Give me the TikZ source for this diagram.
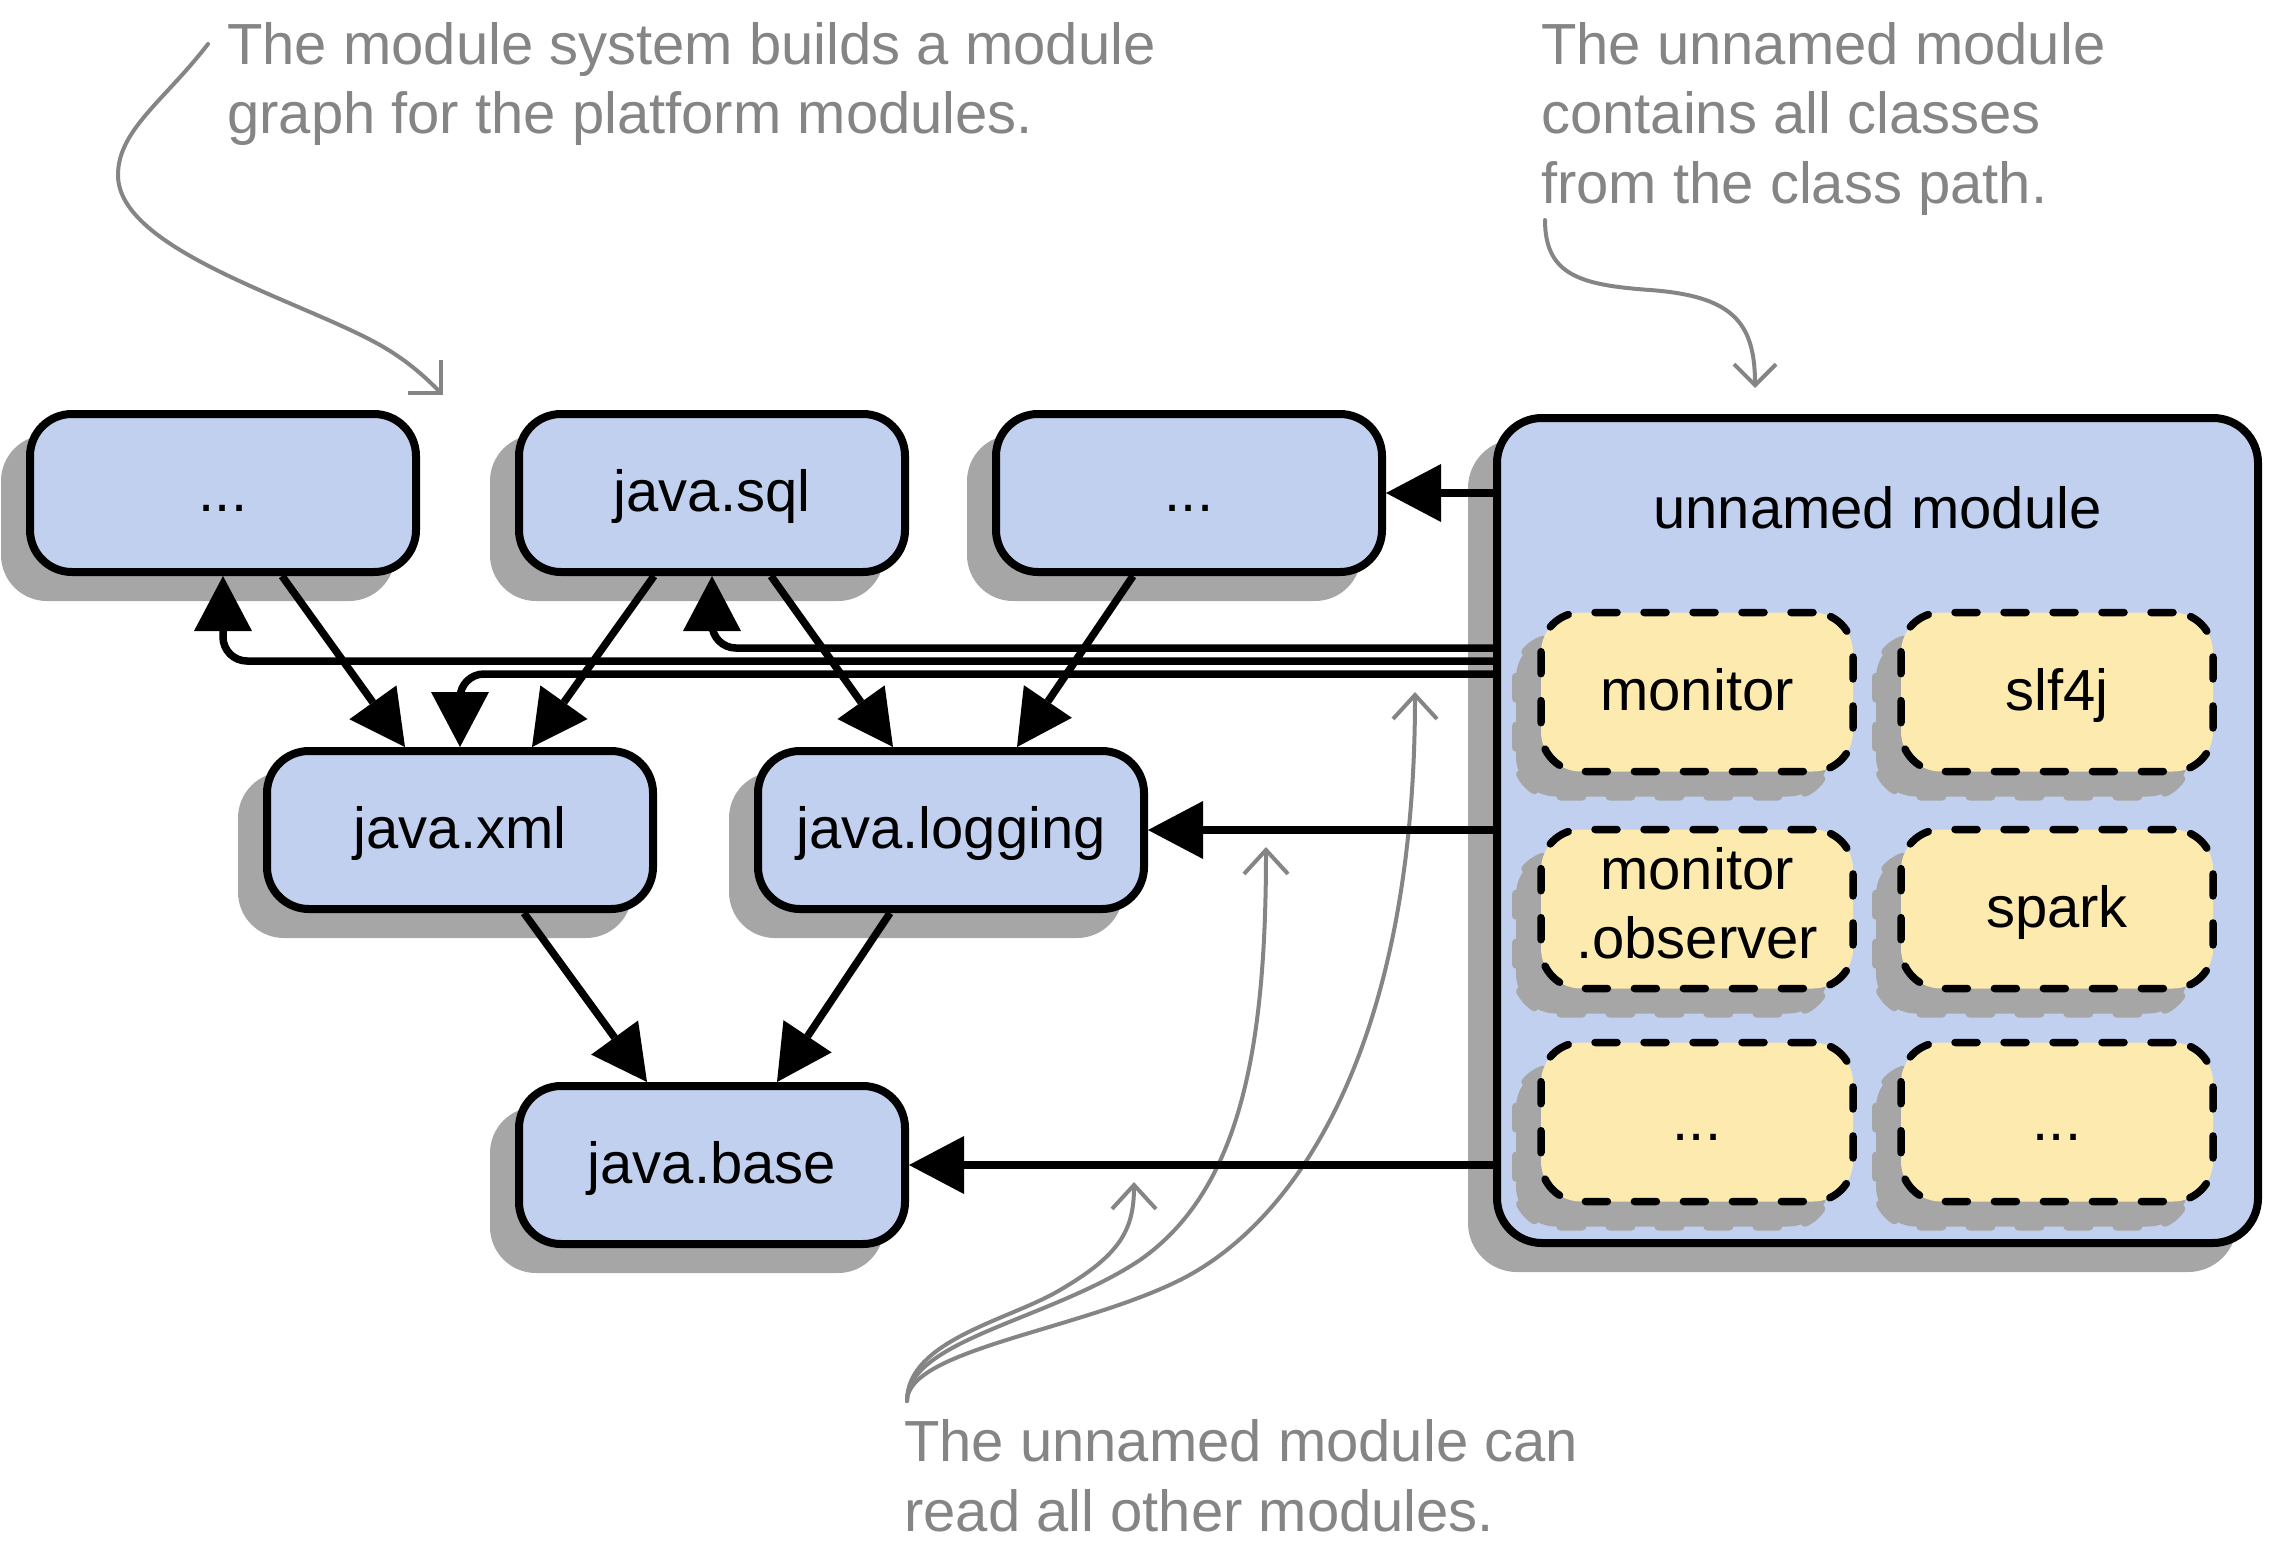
\documentclass[tikz,border=0pt]{standalone}
\usepackage{fontspec}
\setmainfont{Liberation Sans}
\usetikzlibrary{arrows.meta,shadows}
\definecolor{boxblue}{RGB}{192,208,238}
\definecolor{noteyellow}{RGB}{253,234,175}
\definecolor{shadowgray}{RGB}{166,166,166}
\definecolor{notegray}{RGB}{133,133,133}
\begin{document}
\begin{tikzpicture}[x=1pt,y=-1pt,
  every node/.style={font=\fontsize{58}{69.5}\selectfont},
  shadowed/.style={drop shadow={shadow xshift=-25pt,shadow yshift=-25pt,fill=shadowgray,draw=shadowgray,line width=8pt,opacity=1}},
  modbox/.style={shadowed, draw, line width=8pt, fill=boxblue, rounded corners=42pt, minimum width=386pt, minimum height=158pt, inner sep=0pt, text height=44pt, text depth=8pt},
  bigbox/.style={shadowed, draw, line width=8pt, fill=boxblue, rounded corners=45pt, minimum width=761pt, minimum height=825pt, inner sep=0pt},
  subbox/.style={shadowed, draw, line width=7.5pt, line cap=round, dash pattern=on 22pt off 27pt, fill=noteyellow, rounded corners=40pt, minimum width=312pt, minimum height=159pt, inner sep=0pt, text height=44pt, text depth=8pt},
  lbl/.style={inner sep=0pt, anchor=base},
  note/.style={inner sep=0pt, anchor=base west, text=notegray},
  notecurve/.style={draw=notegray, line width=4pt, line cap=round},
  arr/.style={line width=7.5pt, -{Triangle[length=55pt,width=58pt,line width=0pt]}},
]
\useasboundingbox (0,0) rectangle (2269,1550);

% platform modules
\node[modbox] (A) at (223,493) {...};
\node[modbox] (sql) at (712,493) {java.sql};
\node[modbox] (dotsmid) at (1189,493) {...};
\node[modbox] (xml) at (460,830) {java.xml};
\node[modbox] (log) at (951,830) {java.logging};
\node[modbox] (base) at (712,1165) {java.base};

% unnamed module
\node[bigbox] (unn) at (1877.5,830.5) {};
\node[lbl] (unnlbl) at (1877.5,528) {unnamed module};
\node[subbox] (mon) at (1697,692) {monitor};
\node[subbox] (slf) at (2057,692) {slf4j};
\node[subbox] (obs) at (1697,909) {};
\node[lbl] (obs1) at (1697,889) {monitor};
\node[lbl] (obs2) at (1697,958) {.observer};
\node[subbox] (spark) at (2057,909) {spark};
\node[subbox] (more1) at (1697,1122) {...};
\node[subbox] (more2) at (2057,1122) {...};

% annotations
\node[note] (n1a) at (227,64) {The module system builds a module};
\node[note] (n1b) at (227,133.5) {graph for the platform modules.};
\node[note] (n2a) at (1541,64) {The unnamed module};
\node[note] (n2b) at (1541,133.5) {contains all classes};
\node[note] (n2c) at (1541,203) {from the class path.};
\node[note] (n3a) at (904,1461.5) {The unnamed module can};
\node[note] (n3b) at (904,1531) {read all other modules.};

\coordinate (c1s) at (208,44);
\coordinate (c1e) at (443,395);
\coordinate (c2s) at (1545,220);
\coordinate (c2e) at (1755,388);
\coordinate (c3s) at (907,1401);
\coordinate (c3a) at (1134,1182);
\coordinate (c3b) at (1266,847);
\coordinate (c3c) at (1415,692);

\draw[notecurve, -{Straight Barb[length=23pt,width=46pt]}] (c1s) .. controls (165,100) and (118,130) .. (118,175) .. controls (118,250) and (300,300) .. (380,345) .. controls (410,362) and (428,380) .. (c1e);
\draw[notecurve, -{Straight Barb[length=21pt,width=42pt]}] (c2s) .. controls (1545,275) and (1580,285) .. (1650,290) .. controls (1730,296) and (1755,320) .. (c2e);
\draw[notecurve, -{Straight Barb[length=24pt,width=44pt]}] (c3s) .. controls (907,1340) and (1010,1320) .. (1060,1290) .. controls (1120,1255) and (1134,1230) .. (c3a);
\draw[notecurve, -{Straight Barb[length=24pt,width=44pt]}] (c3s) .. controls (907,1340) and (1050,1320) .. (1140,1260) .. controls (1240,1190) and (1266,1050) .. (c3b);
\draw[notecurve, -{Straight Barb[length=24pt,width=44pt]}] (c3s) .. controls (907,1350) and (1080,1330) .. (1180,1280) .. controls (1300,1220) and (1415,1040) .. (c3c);

% dependencies
\draw[arr] ([xshift=59pt]A.south) -- ([xshift=-55pt]xml.north);
\draw[arr] ([xshift=-58pt]sql.south) -- ([xshift=72pt]xml.north);
\draw[arr] ([xshift=59pt]sql.south) -- ([xshift=-58pt]log.north);
\draw[arr] ([xshift=-56pt]dotsmid.south) -- ([xshift=66pt]log.north);
\draw[arr] ([xshift=64pt]xml.south) -- ([xshift=-65pt]base.north);
\draw[arr] ([xshift=-61pt]log.south) -- ([xshift=65pt]base.north);

% reads from unnamed module
\draw[arr] (unn.west |- dotsmid) -- (dotsmid.east);
\draw[arr] (unn.west |- log) -- (log.east);
\draw[arr] (unn.west |- base) -- (base.east);
\draw[arr, rounded corners=24pt] (unn.west |- 0,648) -- (sql.south |- 0,648) -- (sql.south);
\draw[arr, rounded corners=24pt] (unn.west |- 0,661) -- (A.south |- 0,661) -- (A.south);
\draw[arr, rounded corners=24pt] (unn.west |- 0,674) -- (xml.north |- 0,674) -- (xml.north);
\end{tikzpicture}
\end{document}
